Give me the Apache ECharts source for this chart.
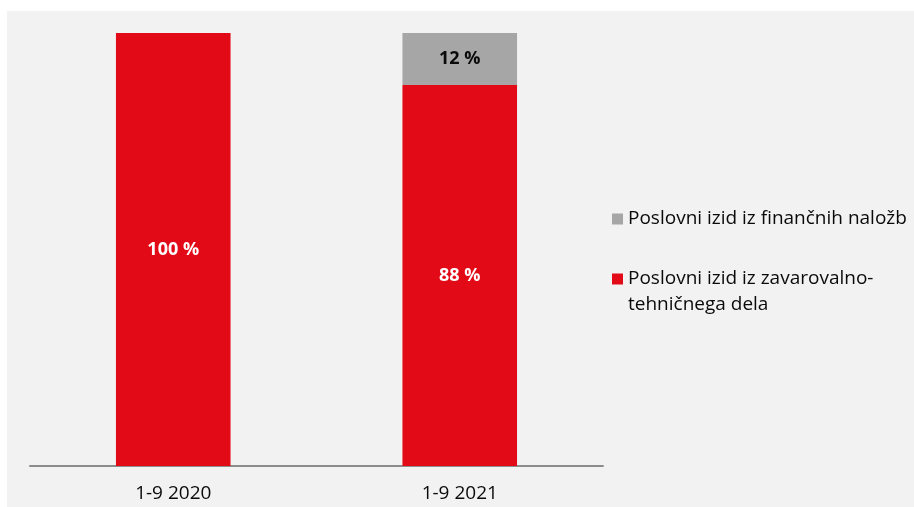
<!DOCTYPE html>
<html>
<head>
<meta charset="utf-8">
<script src="https://cdn.jsdelivr.net/npm/echarts@6/dist/echarts.min.js"></script>
<style>html,body{margin:0;padding:0;background:#fff;}#c{width:914px;height:507px;}</style>
</head>
<body>
<div id="c"></div>
<script>
const categories = ['1-9 2020', '1-9 2021'];
const seriesNames = ['Poslovni izid iz finančnih naložb', 'Poslovni izid iz zavarovalno-tehničnega dela'];
const insuranceShare = [100, 88];
const investmentShare = [0, 12];

const chart = echarts.init(document.getElementById('c'));
const font = 'Open Sans';
chart.setOption({
  backgroundColor: '#f2f2f2',
  animation: false,
  graphic: [
    { type: 'rect', shape: { x: 0, y: 0, width: 914, height: 11 }, style: { fill: '#ffffff' }, z: 100 },
    { type: 'rect', shape: { x: 0, y: 0, width: 7, height: 507 }, style: { fill: '#ffffff' }, z: 100 }
  ],
  grid: { left: 30, right: 311, top: 33, bottom: 41, containLabel: false },
  xAxis: {
    type: 'category',
    data: categories,
    axisTick: { show: false },
    axisLine: { lineStyle: { color: '#8c8c8c', width: 2 } },
    axisLabel: { color: '#0a0a0a', fontSize: 19, fontFamily: font, margin: 18 }
  },
  yAxis: { type: 'value', min: 0, max: 100, show: false, splitLine: { show: false } },
  legend: [
    {
      data: [seriesNames[0]],
      orient: 'vertical', left: 612, top: 206, padding: 0,
      icon: 'rect', itemWidth: 11, itemHeight: 11, itemGap: 0,
      textStyle: { fontSize: 19, fontFamily: font, color: '#0a0a0a', lineHeight: 26 }
    },
    {
      data: [seriesNames[1]],
      orient: 'vertical', left: 612, top: 240, padding: 0,
      icon: 'rect', itemWidth: 11, itemHeight: 11, itemGap: 0,
      formatter: () => '\nPoslovni izid iz zavarovalno-\ntehničnega dela',
      textStyle: { fontSize: 19, fontFamily: font, color: '#0a0a0a', lineHeight: 26 }
    }
  ],
  series: [
    {
      name: seriesNames[1],
      type: 'bar', stack: 't', barWidth: '40%',
      data: insuranceShare,
      itemStyle: { color: '#e30a17' },
      label: { show: true, position: 'inside', color: '#fff', fontWeight: 'bold', fontSize: 18, fontFamily: font,
        formatter: p => p.value ? p.value + ' %' : '' }
    },
    {
      name: seriesNames[0],
      type: 'bar', stack: 't', barWidth: '40%',
      data: investmentShare,
      itemStyle: { color: '#a6a6a6' },
      label: { show: true, position: 'inside', color: '#0a0a0a', fontWeight: 'bold', fontSize: 18, fontFamily: font,
        formatter: p => p.value ? p.value + ' %' : '' }
    }
  ]
});
</script>
</body>
</html>
